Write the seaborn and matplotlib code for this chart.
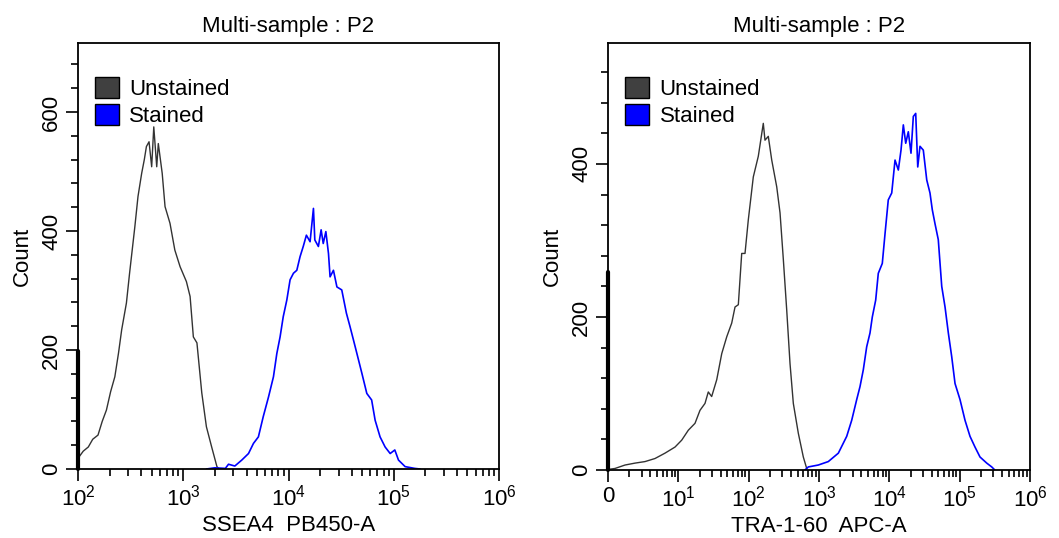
import matplotlib
matplotlib.use("Agg")
import matplotlib.pyplot as plt
import matplotlib.ticker as mticker
import numpy as np
import seaborn as sns
from matplotlib.patches import Patch

# --- data (x as log10 intensity, y as count) ---
ssea4_unst_log = [2.00, 2.05, 2.098, 2.14, 2.19, 2.23, 2.27, 2.31, 2.35, 2.385, 2.415,
                  2.46, 2.49, 2.54, 2.57, 2.605, 2.63, 2.65, 2.675, 2.70, 2.72, 2.748,
                  2.763, 2.80, 2.827, 2.874, 2.92, 2.97, 3.03, 3.065, 3.096, 3.13,
                  3.176, 3.22, 3.27, 3.32, 3.34]
ssea4_unst_cnt = [18, 30, 37, 50, 57, 80, 99, 130, 155, 195, 234,
                  279, 329, 407, 458, 497, 520, 542, 550, 508, 575, 508,
                  547, 497, 441, 413, 368, 340, 315, 290, 222, 212,
                  128, 71, 37, 4, 0]

ssea4_st_log = [3.22, 3.30, 3.40, 3.43, 3.49, 3.556, 3.62, 3.667, 3.714, 3.76, 3.81,
                3.857, 3.889, 3.92, 3.95, 3.984, 4.015, 4.047, 4.079, 4.11, 4.14,
                4.17, 4.205, 4.237, 4.25, 4.284, 4.31, 4.33, 4.355, 4.38, 4.395,
                4.427, 4.46, 4.506, 4.55, 4.585, 4.617, 4.65, 4.697, 4.744, 4.79,
                4.823, 4.87, 4.918, 4.966, 5.01, 5.045, 5.108, 5.2, 5.25]
ssea4_st_cnt = [0, 2, 1, 8, 5, 15, 26, 43, 54, 88, 121,
                155, 194, 222, 256, 284, 318, 329, 334, 357, 374,
                393, 382, 438, 385, 374, 402, 379, 399, 362, 323,
                334, 306, 301, 262, 239, 217, 194, 161, 127, 116,
                82, 54, 37, 26, 32, 15, 4, 1, 0]

tra_unst_log = [0.02, 0.0995, 0.242, 0.384, 0.526, 0.668, 0.810, 0.953, 1.048, 1.142,
                1.237, 1.308, 1.379, 1.426, 1.474, 1.546, 1.617, 1.688, 1.759, 1.806,
                1.853, 1.901, 1.948, 1.995, 2.066, 2.137, 2.208, 2.232, 2.279, 2.328,
                2.399, 2.446, 2.493, 2.541, 2.588, 2.635, 2.706, 2.777, 2.825]
tra_unst_cnt = [1, 2, 6.5, 9, 11, 15, 22, 30, 39, 52,
                61, 78, 87, 102, 96, 118, 152, 174, 192, 213,
                216, 283, 283, 327, 383, 410, 453, 431, 436, 405,
                370, 336, 275, 209, 139, 87, 48, 17, 2]

tra_st_log = [2.80, 2.848, 2.990, 3.132, 3.275, 3.394, 3.465, 3.536, 3.583, 3.630,
              3.678, 3.725, 3.758, 3.806, 3.843, 3.900, 3.939, 3.985, 4.034, 4.081,
              4.128, 4.166, 4.199, 4.233, 4.270, 4.308, 4.341, 4.375, 4.404, 4.436,
              4.483, 4.532, 4.578, 4.611, 4.649, 4.696, 4.745, 4.792, 4.839, 4.887,
              4.934, 5.005, 5.076, 5.147, 5.218, 5.289, 5.385, 5.456, 5.50]
tra_st_cnt = [0, 4, 6.5, 11, 22, 44, 65, 92, 109, 131,
              161, 179, 200, 222, 257, 270, 309, 353, 362, 405,
              392, 418, 451, 427, 442, 414, 462, 466, 396, 423,
              418, 379, 362, 340, 322, 301, 240, 213, 179, 148,
              113, 92, 65, 44, 30, 17, 9, 4, 0]

legend_labels = ["Unstained", "Stained"]
unst_color = "#333333"
st_color = "#0000ff"

sns.set_style("ticks", {"text.color": "black", "axes.labelcolor": "black",
                        "xtick.color": "black", "ytick.color": "black",
                        "axes.edgecolor": "black"})
plt.rcParams["font.family"] = ["Liberation Sans", "DejaVu Sans"]
plt.rcParams["mathtext.fontset"] = "custom"
plt.rcParams["mathtext.rm"] = "Liberation Sans"
plt.rcParams["mathtext.it"] = "Liberation Sans"

FS = 16

fig = plt.figure(figsize=(10.59, 5.38), dpi=100)
ax1 = fig.add_axes([78 / 1059, 69 / 538, 421 / 1059, 426 / 538])
ax2 = fig.add_axes([608 / 1059, 68 / 538, 422 / 1059, 427 / 538])


def draw_panel(ax, ul, uc, sl, sc, xlim, xticks, xticklabels, ymax, yticks, thick, xlabel):
    sns.lineplot(x=10 ** np.array(ul), y=uc, color=unst_color, lw=1.0,
                 sort=False, estimator=None, ax=ax)
    sns.lineplot(x=10 ** np.array(sl), y=sc, color=st_color, lw=1.2,
                 sort=False, estimator=None, ax=ax)
    ax.set_xscale("log")
    ax.set_xlim(*xlim)
    ax.set_ylim(0, ymax)
    ax.set_xticks(xticks)
    ax.set_xticklabels(xticklabels)
    ax.xaxis.set_minor_locator(mticker.LogLocator(base=10, subs=range(2, 10), numticks=50))
    ax.xaxis.set_minor_formatter(mticker.NullFormatter())
    ax.set_yticks(yticks)
    ax.yaxis.set_minor_locator(mticker.MultipleLocator(40))
    ax.tick_params(which="major", direction="out", length=8.5, width=1.2, pad=3,
                   labelsize=FS, color="black", labelcolor="black")
    ax.tick_params(which="minor", direction="out", length=5, width=1.2, color="black")
    plt.setp(ax.get_yticklabels(), rotation=90, va="center")
    for s in ax.spines.values():
        s.set_visible(True)
        s.set_color("black")
        s.set_linewidth(1.3)
    # heavier segment on the left spine
    ax.plot([xlim[0], xlim[0]], [0, thick], color="black", lw=3, clip_on=False)
    ax.set_xlabel(xlabel, fontsize=FS, labelpad=3, color="black")
    ax.set_ylabel("Count", fontsize=FS, labelpad=6, color="black")
    ax.set_title("Multi-sample : P2", fontsize=FS, pad=8, color="black")
    handles = [Patch(facecolor="#404040", edgecolor="black", lw=1),
               Patch(facecolor=st_color, edgecolor="black", lw=1)]
    ax.legend(handles, legend_labels, loc="upper left", frameon=False,
              bbox_to_anchor=(17 / 421, 1 - 34 / 426), borderaxespad=0, borderpad=0,
              handlelength=1.1, handleheight=1.1, handletextpad=0.45,
              labelspacing=0.15, fontsize=FS, labelcolor="black")


draw_panel(ax1, ssea4_unst_log, ssea4_unst_cnt, ssea4_st_log, ssea4_st_cnt,
           (1e2, 1e6), [1e2, 1e3, 1e4, 1e5, 1e6],
           [r"$\mathregular{10^{%d}}$" % k for k in range(2, 7)],
           716, [0, 200, 400, 600], 198, "SSEA4  PB450-A")
draw_panel(ax2, tra_unst_log, tra_unst_cnt, tra_st_log, tra_st_cnt,
           (1, 1e6), [1, 1e1, 1e2, 1e3, 1e4, 1e5, 1e6],
           ["0"] + [r"$\mathregular{10^{%d}}$" % k for k in range(1, 7)],
           558, [0, 200, 400], 259, "TRA-1-60  APC-A")

fig.savefig("out.png", dpi=100)
